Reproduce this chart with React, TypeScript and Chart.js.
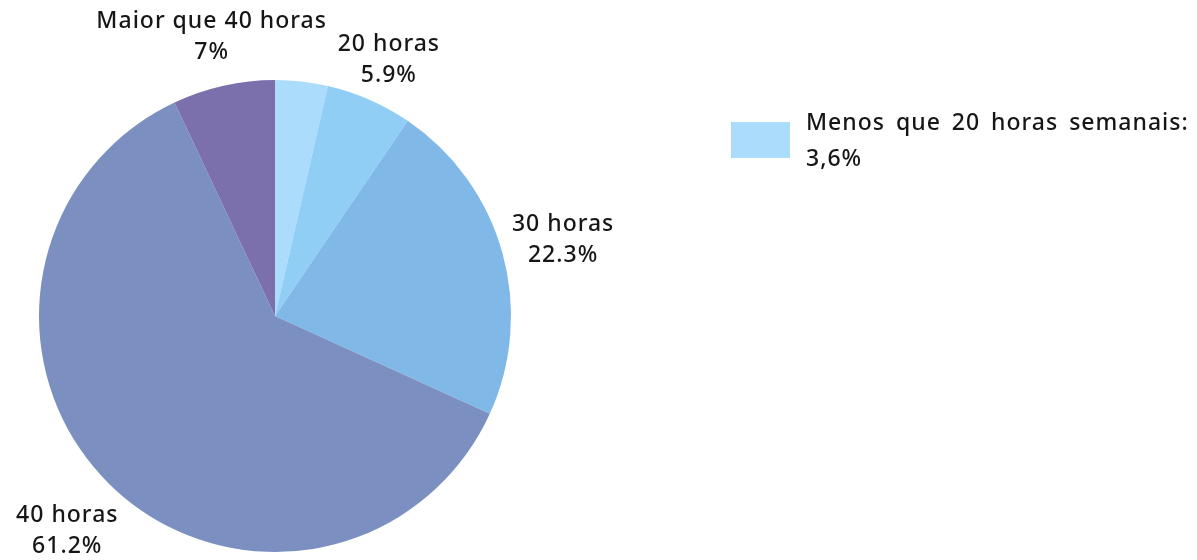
import React, { useEffect, useRef } from "react";
import { Chart, registerables } from "chart.js";

Chart.register(...registerables);

const categories = ["Menos que 20 horas semanais:", "20 horas", "30 horas", "40 horas", "Maior que 40 horas"];
const values = [3.6, 5.9, 22.3, 61.2, 7];
const valueLabels = ["3,6%", "5.9%", "22.3%", "61.2%", "7%"];
const colors = ["#abdcfc", "#91cef6", "#80b9e7", "#7b90c1", "#7b70ab"];
const legendIndexes = [0];

const FONT = "500 23px 'Noto Sans'";
const LINE_H = 31;

const labelPlugin = {
  id: "sliceLabels",
  afterDraw(chart: any) {
    const ctx = chart.ctx;
    const meta = chart.getDatasetMeta(0);
    ctx.save();
    ctx.font = FONT;
    (ctx as any).letterSpacing = "1px";
    ctx.fillStyle = "#161616";
    ctx.textAlign = "center";
    ctx.textBaseline = "middle";
    meta.data.forEach((arc: any, i: number) => {
      if (legendIndexes.includes(i)) return;
      const { x, y, startAngle, endAngle, outerRadius } = arc.getProps(["x", "y", "startAngle", "endAngle", "outerRadius"], true);
      const mid = (startAngle + endAngle) / 2;
      const ux = Math.cos(mid);
      const uy = Math.sin(mid);
      const l1 = categories[i];
      const l2 = valueLabels[i];
      const w = Math.max(ctx.measureText(l1).width, ctx.measureText(l2).width);
      const hw = w / 2;
      const hh = 22;
      const d = outerRadius + 8 + hw * Math.abs(ux) + hh * Math.abs(uy);
      const cx = x + ux * d;
      const cy = y + uy * d + 5;
      ctx.fillText(l1, cx, cy - LINE_H / 2);
      ctx.fillText(l2, cx, cy + LINE_H / 2);
    });
    // legend
    legendIndexes.forEach((i, k) => {
      const bx = 731;
      const by = 122 + k * 60;
      ctx.fillStyle = colors[i];
      ctx.fillRect(bx, by, 59, 36);
      ctx.fillStyle = "#161616";
      ctx.textAlign = "left";
      (ctx as any).wordSpacing = "4px";
      ctx.fillText(categories[i], bx + 75, by + 1);
      (ctx as any).wordSpacing = "0px";
      ctx.fillText(valueLabels[i], bx + 75, by + 37);
    });
    ctx.restore();
  },
};

export default function App() {
  const ref = useRef<HTMLCanvasElement>(null);
  useEffect(() => {
    document.body.style.margin = "0";
    const chart = new Chart(ref.current!, {
      type: "pie",
      data: {
        labels: categories,
        datasets: [
          {
            data: values,
            backgroundColor: colors,
            borderWidth: 0,
          },
        ],
      },
      options: {
        animation: false,
        responsive: false,
        layout: { padding: { left: 39, right: 686, top: 80, bottom: 8 } },
        plugins: { legend: { display: false }, tooltip: { enabled: false } },
      },
      plugins: [labelPlugin],
    });
    return () => chart.destroy();
  }, []);
  return (
    <div style={{ width: 1197, height: 560 }}>
      <canvas ref={ref} width={1197} height={560} />
    </div>
  );
}
